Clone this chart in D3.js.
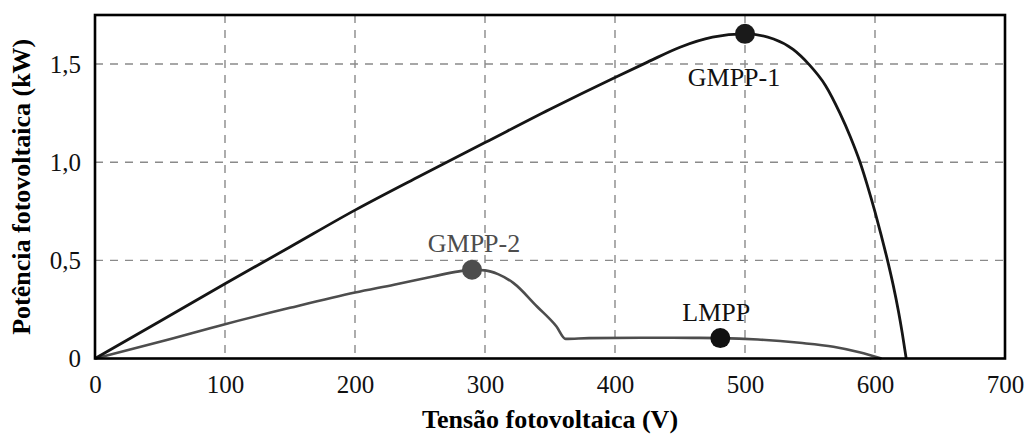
<!DOCTYPE html>
<html>
<head>
<meta charset="utf-8">
<script src="https://cdn.jsdelivr.net/npm/d3@7"></script>
<style>
  html, body { margin: 0; padding: 0; background: #fff; }
  svg { display: block; }
  svg text { font-family: "Liberation Serif", "Times New Roman", serif; }
</style>
</head>
<body>
<svg id="chart" width="1026" height="436"></svg>
<script>
// P-V curves of the photovoltaic array (voltage in V, power in kW)
const curve1V = [0, 50, 100, 150, 200, 250, 300, 350, 400, 425, 450, 475, 500, 522, 537, 549, 562, 573, 581, 588.5, 594, 600, 605, 610, 614, 618, 621, 624];
const curve1P = [0, 0.19, 0.381, 0.568, 0.756, 0.93, 1.10, 1.27, 1.432, 1.51, 1.586, 1.637, 1.654, 1.628, 1.575, 1.50, 1.39, 1.25, 1.13, 1.0, 0.885, 0.747, 0.622, 0.49, 0.374, 0.242, 0.128, 0];

const curve2V = [0, 50, 100, 150, 200, 230, 260, 280, 290, 300, 310, 322, 340, 355, 362, 380, 420, 460, 481, 510, 542, 568, 588, 605];
const curve2P = [0, 0.085, 0.175, 0.258, 0.336, 0.376, 0.418, 0.444, 0.452, 0.449, 0.43, 0.384, 0.265, 0.163, 0.10, 0.104, 0.106, 0.105, 0.104, 0.097, 0.08, 0.06, 0.032, 0];

// Maximum power points
const mppNames = ["GMPP-1", "GMPP-2", "LMPP"];
const mppV = [500, 290, 481];
const mppP = [1.654, 0.452, 0.104];

const xTicks = [0, 100, 200, 300, 400, 500, 600, 700];
const yTicks = [0, 0.5, 1.0, 1.5];
const yTickLabels = ["0", "0,5", "1,0", "1,5"];

const xTitle = "Tensão fotovoltaica (V)";
const yTitle = "Potência fotovoltaica (kW)";

// ---- layout ----
const plotLeft = 95, plotRight = 1005, plotTop = 15, plotBottom = 358.5;
const svg = d3.select("#chart");

const x = d3.scaleLinear().domain([0, 700]).range([plotLeft, plotRight]);
const y = d3.scaleLinear().domain([0, 1.75]).range([plotBottom, plotTop]);

// grid
const grid = svg.append("g")
  .attr("stroke", "#8a8a8a")
  .attr("stroke-width", 1.4)
  .attr("stroke-dasharray", "8,7");
grid.selectAll("line.v")
  .data(xTicks.filter(d => d > 0 && d < 700))
  .join("line")
  .attr("class", "v")
  .attr("x1", d => x(d)).attr("x2", d => x(d))
  .attr("y1", plotTop).attr("y2", plotBottom);
grid.selectAll("line.h")
  .data(yTicks.filter(d => d > 0))
  .join("line")
  .attr("class", "h")
  .attr("x1", plotLeft).attr("x2", plotRight)
  .attr("y1", d => y(d)).attr("y2", d => y(d));

// axes (labels only; frame drawn separately)
const xAxis = d3.axisBottom(x).tickValues(xTicks).tickSize(0).tickPadding(17)
  .tickFormat(d3.format("d"));
svg.append("g")
  .attr("transform", `translate(0,${plotBottom})`)
  .call(xAxis)
  .call(g => g.select(".domain").remove())
  .call(g => g.selectAll("text")
    .attr("font-size", 25).attr("fill", "#111"));

const yAxis = d3.axisLeft(y).tickValues(yTicks).tickSize(0).tickPadding(14)
  .tickFormat((d, i) => yTickLabels[i]);
svg.append("g")
  .attr("transform", `translate(${plotLeft},0)`)
  .call(yAxis)
  .call(g => g.select(".domain").remove())
  .call(g => g.selectAll("text")
    .attr("font-size", 25).attr("fill", "#111"));

// curves
const line = d3.line()
  .x(d => x(d[0]))
  .y(d => y(d[1]))
  .curve(d3.curveMonotoneX);

svg.append("path")
  .datum(curve2V.map((v, i) => [v, curve2P[i]]))
  .attr("d", line)
  .attr("fill", "none")
  .attr("stroke", "#4d4d4d")
  .attr("stroke-width", 2.6);

svg.append("path")
  .datum(curve1V.map((v, i) => [v, curve1P[i]]))
  .attr("d", line)
  .attr("fill", "none")
  .attr("stroke", "#151515")
  .attr("stroke-width", 2.8);

// frame
svg.append("rect")
  .attr("x", plotLeft).attr("y", plotTop)
  .attr("width", plotRight - plotLeft).attr("height", plotBottom - plotTop)
  .attr("fill", "none")
  .attr("stroke", "#000")
  .attr("stroke-width", 2.6);

// MPP markers and labels
const mppFill = ["#1a1a1a", "#4d4d4d", "#111"];
const labelDx = [-11, 2, -4];
const labelDy = [52, -18, -17];

svg.selectAll("circle.mpp")
  .data(mppNames)
  .join("circle")
  .attr("class", "mpp")
  .attr("cx", (d, i) => x(mppV[i]))
  .attr("cy", (d, i) => y(mppP[i]))
  .attr("r", 10)
  .attr("fill", (d, i) => mppFill[i]);

svg.selectAll("text.mpp")
  .data(mppNames)
  .join("text")
  .attr("class", "mpp")
  .attr("x", (d, i) => x(mppV[i]) + labelDx[i])
  .attr("y", (d, i) => y(mppP[i]) + labelDy[i])
  .attr("text-anchor", "middle")
  .attr("font-size", 26)
  .attr("fill", (d, i) => i === 1 ? "#4d4d4d" : "#111")
  .text(d => d);

// axis titles
svg.append("text")
  .attr("x", (plotLeft + plotRight) / 2)
  .attr("y", 428)
  .attr("text-anchor", "middle")
  .attr("font-size", 26)
  .attr("font-weight", "bold")
  .attr("fill", "#000")
  .text(xTitle);

svg.append("text")
  .attr("transform", `translate(30,${(plotTop + plotBottom) / 2}) rotate(-90)`)
  .attr("text-anchor", "middle")
  .attr("font-size", 26)
  .attr("font-weight", "bold")
  .attr("fill", "#000")
  .text(yTitle);
</script>
</body>
</html>
